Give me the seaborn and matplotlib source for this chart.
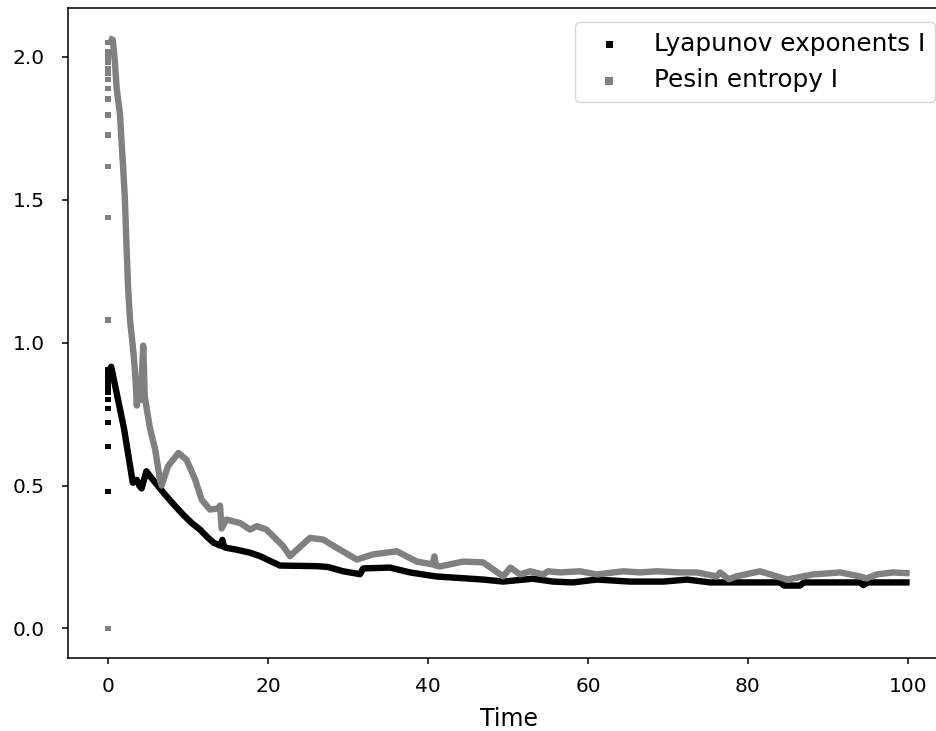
import matplotlib
matplotlib.use("Agg")
import matplotlib.pyplot as plt
import seaborn as sns

# ---- data ----
series_names = ["Lyapunov exponents I", "Pesin entropy I"]
series_colors = ["black", "grey"]

# isolated transient points at t = 0
lyap_t0_values = [0.479, 0.636, 0.720, 0.769, 0.801, 0.825, 0.836, 0.853, 0.871, 0.890, 0.905]
pesin_t0_values = [0.0, 1.080, 1.438, 1.616, 1.727, 1.797, 1.853, 1.890, 1.922, 1.943,
                   1.960, 1.980, 2.000, 2.020, 2.050]

# continuous part of the curves
lyap_time = [0.2, 0.4, 2.0, 3.1, 3.6, 3.9, 4.2, 4.8, 5.25, 6.5, 7.3, 8.5, 9.5, 10.5,
             11.5, 12.4, 13.2, 14.0, 14.3, 14.5, 14.8, 16.0, 17.75, 19.0, 21.5, 26.1,
             27.5, 29.4, 31.5, 31.9, 35.25, 37.75, 41.0, 46.9, 49.4, 53.1, 55.6, 58.1,
             61.1, 65.25, 69.4, 72.4, 75.25, 77.75, 84.0, 84.5, 86.5, 87.0, 89.0, 94.0,
             94.4, 95.0, 100.2]
lyap_values = [0.905, 0.916, 0.700, 0.510, 0.520, 0.500, 0.490, 0.550, 0.533, 0.490,
               0.463, 0.425, 0.395, 0.368, 0.346, 0.320, 0.300, 0.290, 0.310, 0.285,
               0.282, 0.276, 0.265, 0.253, 0.220, 0.218, 0.215, 0.200, 0.190, 0.210,
               0.213, 0.196, 0.182, 0.171, 0.164, 0.174, 0.164, 0.161, 0.171, 0.164,
               0.164, 0.171, 0.161, 0.161, 0.161, 0.150, 0.150, 0.161, 0.161, 0.161,
               0.152, 0.161, 0.161]

pesin_time = [0.1, 0.6, 0.875, 1.08, 1.5, 1.7, 1.9, 2.1, 2.3, 2.5, 2.75, 3.2, 3.4, 3.6,
              3.9, 4.1, 4.4, 4.6, 5.25, 5.9, 6.5, 6.7, 7.5, 8.8, 9.8, 10.9, 11.7, 12.75,
              13.8, 14.0, 14.2, 14.8, 16.5, 17.75, 18.6, 19.8, 21.9, 22.75, 23.2, 25.25,
              26.9, 28.6, 30.25, 31.1, 33.1, 36.1, 38.6, 40.6, 40.8, 41.0, 41.5, 44.4,
              46.9, 49.4, 50.3, 51.5, 52.75, 54.4, 55.0, 56.5, 59.0, 61.1, 64.4, 66.5,
              68.6, 71.5, 73.6, 76.1, 76.5, 77.6, 78.5, 81.5, 84.9, 88.1, 91.5, 94.0,
              94.8, 96.1, 98.1, 100.2]
pesin_values = [2.065, 2.060, 1.978, 1.890, 1.800, 1.700, 1.610, 1.510, 1.350, 1.200,
                1.080, 0.960, 0.890, 0.780, 0.860, 0.800, 0.990, 0.810, 0.700, 0.626,
                0.520, 0.500, 0.568, 0.614, 0.591, 0.521, 0.451, 0.416, 0.420, 0.430,
                0.350, 0.381, 0.369, 0.346, 0.358, 0.346, 0.288, 0.253, 0.265, 0.317,
                0.311, 0.282, 0.255, 0.241, 0.259, 0.270, 0.234, 0.224, 0.252, 0.220,
                0.217, 0.234, 0.231, 0.182, 0.213, 0.189, 0.200, 0.189, 0.200, 0.196,
                0.200, 0.189, 0.200, 0.196, 0.200, 0.196, 0.196, 0.182, 0.196, 0.172,
                0.182, 0.200, 0.171, 0.189, 0.196, 0.182, 0.175, 0.189, 0.196, 0.193]

x_ticks = [0, 20, 40, 60, 80, 100]
y_ticks = [0.0, 0.5, 1.0, 1.5, 2.0]
x_label = "Time"

# ---- figure ----
W, H = 937, 731
fig = plt.figure(figsize=(W / 100, H / 100), dpi=100)
left_px, top_px, bottom_px = 68, 8, 658
px_per_unit = 8.0
xlim = (-5.0, 105.25)
ax_w = (xlim[1] - xlim[0]) * px_per_unit
ax = fig.add_axes([left_px / W, 1 - bottom_px / H, ax_w / W, (bottom_px - top_px) / H])

lw = 4.6
sns.lineplot(x=lyap_time, y=lyap_values, color=series_colors[0], lw=lw,
             estimator=None, sort=False, legend=False, ax=ax, solid_capstyle="butt")
sns.lineplot(x=pesin_time, y=pesin_values, color=series_colors[1], lw=lw,
             estimator=None, sort=False, legend=False, ax=ax, solid_capstyle="butt")

sns.scatterplot(x=[0.0] * len(lyap_t0_values), y=lyap_t0_values, color=series_colors[0],
                marker="s", s=13, edgecolor="none", label=series_names[0], ax=ax)
sns.scatterplot(x=[0.0] * len(pesin_t0_values), y=pesin_t0_values, color=series_colors[1],
                marker="s", s=15, edgecolor="none", label=series_names[1], ax=ax)

ax.set_xlim(*xlim)
ax.set_ylim(-0.1035, 2.1715)
ax.set_xticks(x_ticks)
ax.set_xticklabels([str(v) for v in x_ticks])
ax.set_yticks(y_ticks)
ax.set_yticklabels([f"{v:.1f}" for v in y_ticks])
ax.tick_params(labelsize=14.5, length=4.5, width=1.1)
ax.tick_params(axis="x", pad=9)
ax.tick_params(axis="y", pad=12)
ax.set_xlabel(x_label, fontsize=17, labelpad=8)
ax.set_ylabel("")
for sp in ax.spines.values():
    sp.set_linewidth(1.1)

ax.legend(loc="upper right", bbox_to_anchor=(935 / W, 1 - 22 / H),
          bbox_transform=fig.transFigure, borderaxespad=0, fontsize=17.8,
          markerscale=1.5)

fig.savefig("out.png", dpi=100)
